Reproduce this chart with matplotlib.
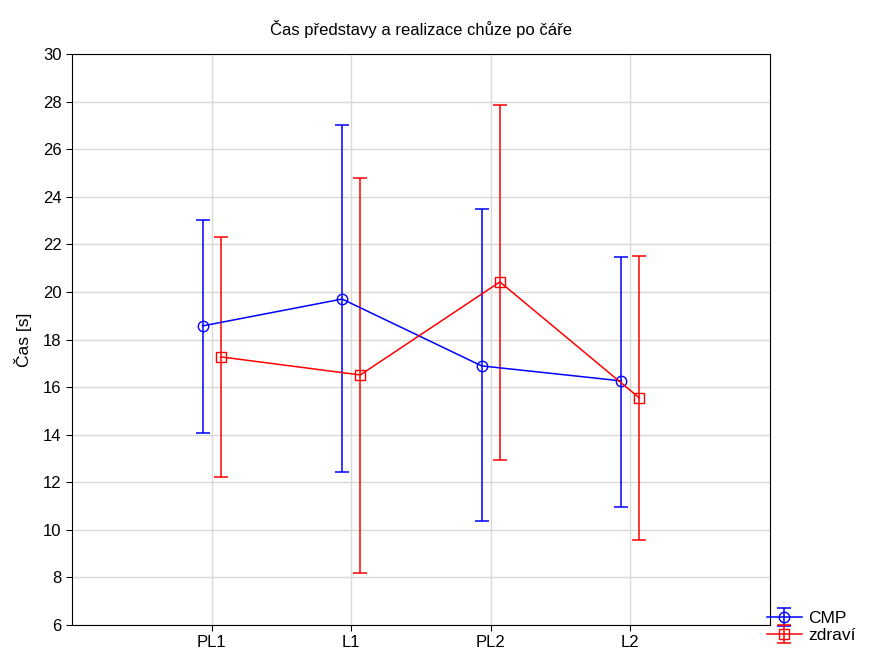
import numpy as np
import matplotlib.pyplot as plt

plt.rcParams['font.family'] = ['Liberation Sans', 'DejaVu Sans']

categories = ['PL1', 'L1', 'PL2', 'L2']
cmp_mean = [18.57, 19.70, 16.89, 16.26]
cmp_low = [14.07, 12.43, 10.37, 10.96]
cmp_high = [23.02, 27.02, 23.49, 21.47]
zdr_mean = [17.27, 16.51, 20.42, 15.54]
zdr_low = [12.22, 8.19, 12.94, 9.57]
zdr_high = [22.31, 24.79, 27.86, 21.51]

fig = plt.figure(figsize=(8.7, 6.57), dpi=100)
ax = fig.add_axes([72 / 870, 1 - 625 / 657, 698 / 870, 571 / 657])

x = np.arange(1, len(categories) + 1)
off = 0.065

def draw(xs, mean, low, high, color, marker, label):
    mean = np.array(mean)
    yerr = [mean - np.array(low), np.array(high) - mean]
    return ax.errorbar(xs, mean, yerr=yerr, color=color, marker=marker, markersize=7.5,
                       markerfacecolor='none', markeredgecolor=color, lw=1.1,
                       elinewidth=1.1, capsize=5, capthick=1.1, label=label)

h1 = draw(x - off, cmp_mean, cmp_low, cmp_high, '#0000ff', 'o', 'CMP')
h2 = draw(x + off, zdr_mean, zdr_low, zdr_high, '#ff0000', 's', 'zdraví')

ax.set_xlim(0, 5)
ax.set_ylim(6, 30)
ax.set_xticks(x)
ax.set_xticklabels(categories)
ax.set_yticks(range(6, 31, 2))
ax.tick_params(labelsize=12, direction='out', length=4)
ax.grid(True, color='#d9d9d9', lw=1)
ax.set_axisbelow(True)
ax.set_ylabel('Čas [s]', fontsize=12.5, labelpad=8)
ax.set_title('Čas představy a realizace chůze po čáře', fontsize=12, pad=14)

fig.legend([h1, h2], ['CMP', 'zdraví'], loc='lower right', bbox_to_anchor=(1.0, 0.0),
           frameon=False, fontsize=12.5, handlelength=2.0, handletextpad=0.4,
           labelspacing=0.1, borderpad=0.3)

fig.savefig('out.png', dpi=100)
